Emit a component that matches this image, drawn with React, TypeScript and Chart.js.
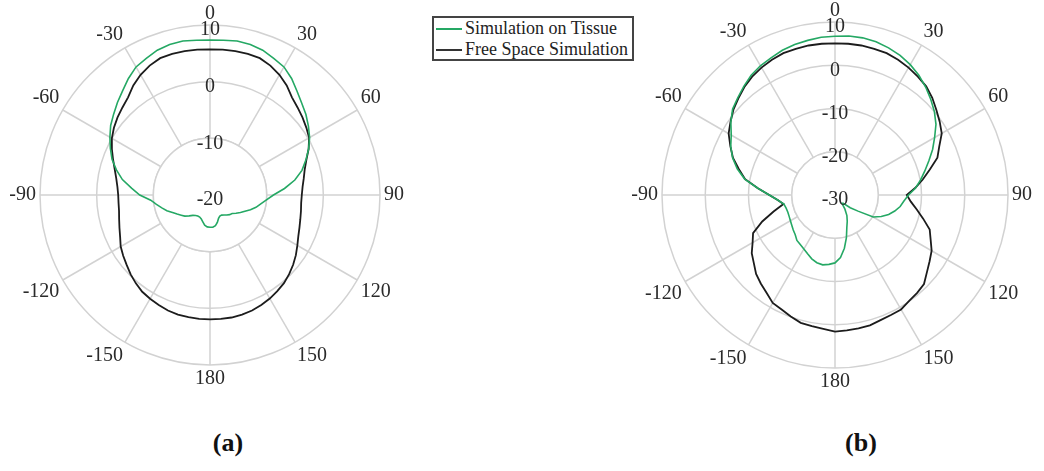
import { useEffect, useRef } from 'react';
import { Chart, registerables } from 'chart.js';

Chart.register(...registerables);

// Angle categories (degrees), clockwise from the top, 5 degree steps
const ANGLES = [
  0, 5, 10, 15, 20, 25, 30, 35, 40, 45, 50, 55, 60, 65, 70, 75, 80, 85,
  90, 95, 100, 105, 110, 115, 120, 125, 130, 135, 140, 145, 150, 155, 160, 165, 170, 175,
  180, -175, -170, -165, -160, -155, -150, -145, -140, -135, -130, -125, -120, -115, -110, -105, -100, -95,
  -90, -85, -80, -75, -70, -65, -60, -55, -50, -45, -40, -35, -30, -25, -20, -15, -10, -5,
];

// (a) gain in dB
const TISSUE_A = [
  7.35, 7.4, 7.6, 7.5, 7.2, 6.6, 6.1, 5.1, 3.9, 2.9, 2.1, 1.2, 0.3, -0.8, -2.0, -3.2, -4.8, -6.8,
  -8.8, -10.0, -10.9, -11.6, -12.4, -13.2, -13.8, -14.4, -14.9, -15.1, -15.4, -15.7, -15.9, -15.9, -15.6, -15.0, -14.5, -14.3,
  -14.3, -14.35, -14.6, -15.1, -15.5, -15.7, -15.7, -15.6, -15.3, -14.8, -14.2, -13.8, -13.3, -12.7, -11.9, -11.2, -10.4, -9.5,
  -7.6, -6.1, -4.3, -2.9, -1.6, -0.6, 0.4, 1.4, 2.2, 3.1, 4.0, 5.1, 6.1, 6.6, 7.2, 7.5, 7.6, 7.4,
];
const FREE_A = [
  5.7, 5.75, 5.8, 5.8, 5.7, 5.2, 4.5, 3.6, 2.5, 1.85, 1.3, 0.75, 0.2, -0.8, -1.9, -2.7, -3.2, -3.6,
  -3.8, -3.85, -3.7, -3.5, -3.2, -2.8, -2.2, -1.5, -0.85, -0.25, 0.3, 0.7, 1.1, 1.4, 1.7, 1.85, 1.95, 1.95,
  1.95, 1.95, 1.9, 1.85, 1.7, 1.4, 1.15, 0.85, 0.35, -0.2, -0.8, -1.3, -1.8, -2.5, -3.0, -3.4, -3.7, -3.8,
  -3.8, -3.6, -3.2, -2.6, -1.8, -0.9, 0.0, 0.7, 1.3, 1.85, 2.5, 3.6, 4.5, 5.2, 5.7, 5.8, 5.8, 5.75,
];

// (b) gain in dB
const TISSUE_B = [
  6.7, 6.9, 6.9, 6.7, 6.2, 5.6, 4.8, 3.8, 2.6, 1.3, 0.0, -1.5, -3.4, -5.1, -6.9, -8.5, -9.9, -11.3,
  -13.0, -14.0, -14.7, -15.7, -16.8, -18.2, -19.8, -23.5, -25.4, -27.3, -27.5, -26.0, -24.5, -23.3, -22.0, -19.8, -17.5, -15.5,
  -14.3, -13.9, -13.6, -13.8, -14.3, -15.0, -15.6, -16.0, -16.3, -17.0, -17.4, -17.8, -18.1, -18.3, -18.4, -18.3, -18.0, -16.7,
  -14.8, -12.1, -8.8, -6.6, -4.8, -3.4, -2.3, -0.6, 0.9, 1.8, 2.8, 3.8, 4.5, 5.0, 5.6, 6.0, 6.3, 6.6,
];
const FREE_B = [
  5.05, 5.1, 5.1, 5.0, 4.9, 4.5, 4.0, 3.4, 2.8, 1.8, 0.6, -0.45, -1.5, -3.4, -4.8, -7.3, -9.4, -11.4,
  -13.4, -12.4, -10.8, -8.9, -6.7, -5.6, -4.2, -3.3, -2.25, -0.9, -0.45, -0.1, 0.55, 0.6, 0.8, 1.2, 1.3, 1.4,
  1.6, 1.1, 0.8, 0.6, -0.1, -0.8, -1.2, -2.4, -3.3, -4.2, -5.5, -6.5, -8.0, -9.1, -12.1, -15.3, -17.9, -16.7,
  -14.8, -12.1, -8.9, -7.0, -4.9, -3.3, -1.6, -0.5, 0.66, 1.6, 2.6, 3.4, 4.0, 4.5, 4.9, 5.0, 5.1, 5.1,
];

const SERIES_NAMES = ['Simulation on Tissue', 'Free Space Simulation'];
const GREEN = '#25a864';
const BLACK = '#1c1c1c';
const GRID = '#d2d2d2';
const TEXT = '#2a2a2a';
const FONT = "'Liberation Serif', 'Times New Roman', serif";

function innerMask(innerValue: number) {
  return {
    id: 'innerMask',
    beforeDatasetsDraw(chart: any) {
      const s = chart.scales.r;
      const r = s.getDistanceFromCenterForValue(innerValue);
      const ctx = chart.ctx;
      ctx.save();
      ctx.beginPath();
      ctx.arc(s.xCenter, s.yCenter, r, 0, Math.PI * 2);
      ctx.fillStyle = '#ffffff';
      ctx.fill();
      ctx.strokeStyle = GRID;
      ctx.lineWidth = 1.5;
      ctx.stroke();
      ctx.restore();
    },
  };
}

type PolarProps = {
  left: number;
  top: number;
  width: number;
  height: number;
  tissue: number[];
  free: number[];
  min: number;
  max: number;
  inner: number;
};

function Polar({ left, top, width, height, tissue, free, min, max, inner }: PolarProps) {
  const ref = useRef<HTMLCanvasElement | null>(null);
  useEffect(() => {
    const chart = new Chart(ref.current as HTMLCanvasElement, {
      type: 'radar',
      data: {
        labels: ANGLES,
        datasets: [
          {
            label: SERIES_NAMES[0],
            data: tissue,
            borderColor: GREEN,
            borderWidth: 1.6,
            pointRadius: 0,
            fill: false,
            tension: 0,
          },
          {
            label: SERIES_NAMES[1],
            data: free,
            borderColor: BLACK,
            borderWidth: 1.8,
            pointRadius: 0,
            fill: false,
            tension: 0,
          },
        ],
      },
      options: {
        responsive: false,
        maintainAspectRatio: false,
        animation: false,
        layout: { padding: 0 },
        plugins: { legend: { display: false }, tooltip: { enabled: false } },
        scales: {
          r: {
            min,
            max,
            beginAtZero: false,
            startAngle: 0,
            ticks: {
              stepSize: 10,
              showLabelBackdrop: false,
              color: TEXT,
              font: { family: FONT, size: 20, lineHeight: '5px' },
              // empty first line pushes the value slightly below its ring
              callback: (v: any) => ['', String(v)],
              z: 1,
            },
            grid: { color: GRID, lineWidth: 1.5, circular: true },
            angleLines: {
              display: true,
              color: GRID,
              lineWidth: (c: any) => (c.index % 6 === 0 ? 1.5 : 0),
            },
            pointLabels: {
              display: true,
              padding: (c: any) => (c.label === '' ? -30 : c.index === 0 ? -11 : -8),
              color: TEXT,
              font: { family: FONT, size: 20, lineHeight: 1.0 },
              callback: (v: any) => (Number(v) % 30 === 0 ? String(v) : ''),
            },
          },
        },
      },
      plugins: [innerMask(inner)],
    } as any);
    return () => chart.destroy();
  }, []);
  return (
    <canvas
      ref={ref}
      width={width}
      height={height}
      style={{ position: 'absolute', left, top, width, height }}
    />
  );
}

export default function App() {
  return (
    <div
      style={{
        position: 'fixed',
        left: 0,
        top: 0,
        width: 1044,
        height: 471,
        overflow: 'hidden',
        background: '#ffffff',
      }}
    >
      <Polar left={-10} top={3} width={440} height={388} tissue={TISSUE_A} free={FREE_A} min={-20} max={10} inner={-10} />
      <Polar left={615} top={0} width={440} height={394} tissue={TISSUE_B} free={FREE_B} min={-30} max={10} inner={-20} />
      <div
        style={{
          position: 'absolute',
          left: 432,
          top: 16,
          width: 198,
          height: 41,
          border: '2px solid #444',
          background: '#fff',
          fontFamily: FONT,
          fontSize: 18,
          color: '#222',
          lineHeight: '21px',
          overflow: 'visible',
        }}
      >
        {SERIES_NAMES.map((name, i) => (
          <div key={name} style={{ display: 'flex', alignItems: 'center', height: 21, whiteSpace: 'nowrap' }}>
            <span
              style={{
                display: 'inline-block',
                width: 26,
                height: 0,
                borderTop: `2px solid ${i === 0 ? GREEN : '#333'}`,
                marginLeft: 2,
                marginRight: 3,
              }}
            />
            <span>{name}</span>
          </div>
        ))}
      </div>
      <div
        style={{
          position: 'absolute',
          left: 178,
          top: 428,
          width: 100,
          textAlign: 'center',
          fontFamily: FONT,
          fontWeight: 'bold',
          fontSize: 26,
          color: '#111',
        }}
      >
        (a)
      </div>
      <div
        style={{
          position: 'absolute',
          left: 811,
          top: 428,
          width: 100,
          textAlign: 'center',
          fontFamily: FONT,
          fontWeight: 'bold',
          fontSize: 26,
          color: '#111',
        }}
      >
        (b)
      </div>
    </div>
  );
}
